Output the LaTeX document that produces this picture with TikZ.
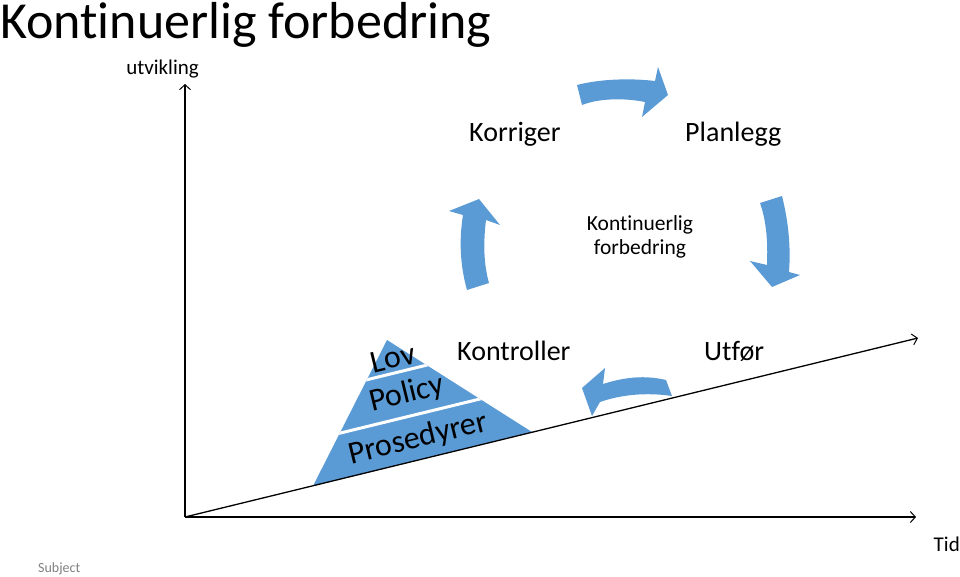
\documentclass[tikz,border=0pt]{standalone}
\usepackage{fontspec}
\setmainfont{Carlito}[Ligatures=NoCommon]
\usetikzlibrary{arrows.meta}
\definecolor{cblue}{HTML}{5B9BD5}
\tikzset{
  axis/.style={line width=1.3pt, -{Straight Barb[length=5pt,width=11pt,line width=1pt]}},
  cyc/.style={fill=cblue, draw=none},
  lbl/.style={inner sep=0pt, font=\fontsize{28}{34}\selectfont},
  pyr/.style={inner sep=0pt, rotate=13.7, font=\fontsize{32}{38}\selectfont},
}
\begin{document}
\begin{tikzpicture}[x=1pt,y=-1pt]
\useasboundingbox (0,0) rectangle (960,576);

% title
\node[anchor=base west, inner sep=0pt, font=\fontsize{52}{60}\selectfont] (title) at (0,38) {Kontinuerlig forbedring};
\node[anchor=base east, inner sep=0pt, font=\fontsize{21}{25}\selectfont] (ylab) at (199,74) {utvikling};
\node[anchor=base east, inner sep=0pt, font=\fontsize{21}{25}\selectfont] (xlab) at (960,551) {Tid};
\node[anchor=base west, inner sep=0pt, text=gray, font=\fontsize{14}{17}\selectfont] (subj) at (38,572) {Subject};

% axes
\coordinate (O) at (185,517);
\coordinate (Ytop) at (185,84);
\coordinate (Xend) at (916,517);
\coordinate (Dend) at (918,338);

% pyramid
\coordinate (A) at (387,340);
\coordinate (L) at (313,486);
\coordinate (R) at (532,432);
\fill[cblue] (A) -- (L) -- (R) -- cycle;
\begin{scope}
  \clip (A) -- (L) -- (R) -- cycle;
  \draw[white, line width=3pt] (340,386.3) -- (460,357);
  \draw[white, line width=3pt] (320,438) -- (520,389.2);
\end{scope}
\node[pyr] (lov) at (393,358) {Lov};
\node[pyr] (policy) at (407,394) {Policy};
\node[pyr] (pros) at (418,439) {Prosedyrer};

\draw[axis] (O) -- (Ytop);
\draw[axis] (O) -- (Xend);
\draw[axis] (O) -- (Dend);

% cycle labels
\node[lbl, anchor=base west] (korr) at (469,141) {Korriger};
\node[lbl, anchor=base west] (plan) at (685,141) {Planlegg};
\node[lbl, anchor=base west] (kontr) at (457,360) {Kontroller};
\node[lbl, anchor=base west] (utf) at (704,360) {Utfør};
\node[inner sep=0pt, align=center, font=\fontsize{21.5}{24}\selectfont] (center) at (640,237) {Kontinuerlig\\forbedring};

% cycle arrows
\fill[cyc] (577,85) .. controls (600,79) and (630,78) .. (655,81) -- (658,67) -- (668,95) -- (642,117) -- (645,102) .. controls (625,98) and (600,98) .. (582,105) -- cycle;
\fill[cyc] (782,196) .. controls (788,220) and (791,245) .. (789,272) -- (800,275) -- (772,287) -- (750,261) -- (767,265) .. controls (768,240) and (766,220) .. (760,203) -- cycle;
\fill[cyc] (666,380) .. controls (645,375) and (625,377) .. (603,384) -- (605,368) -- (582,388) -- (592,416) -- (600,402) .. controls (620,395) and (645,392) .. (672,396) -- cycle;
\fill[cyc] (467,290) .. controls (460,265) and (459,240) .. (463,215) -- (449,211) -- (479,199) -- (500,225) -- (486,220) .. controls (483,245) and (484,265) .. (489,283) -- cycle;
\end{tikzpicture}
\end{document}
